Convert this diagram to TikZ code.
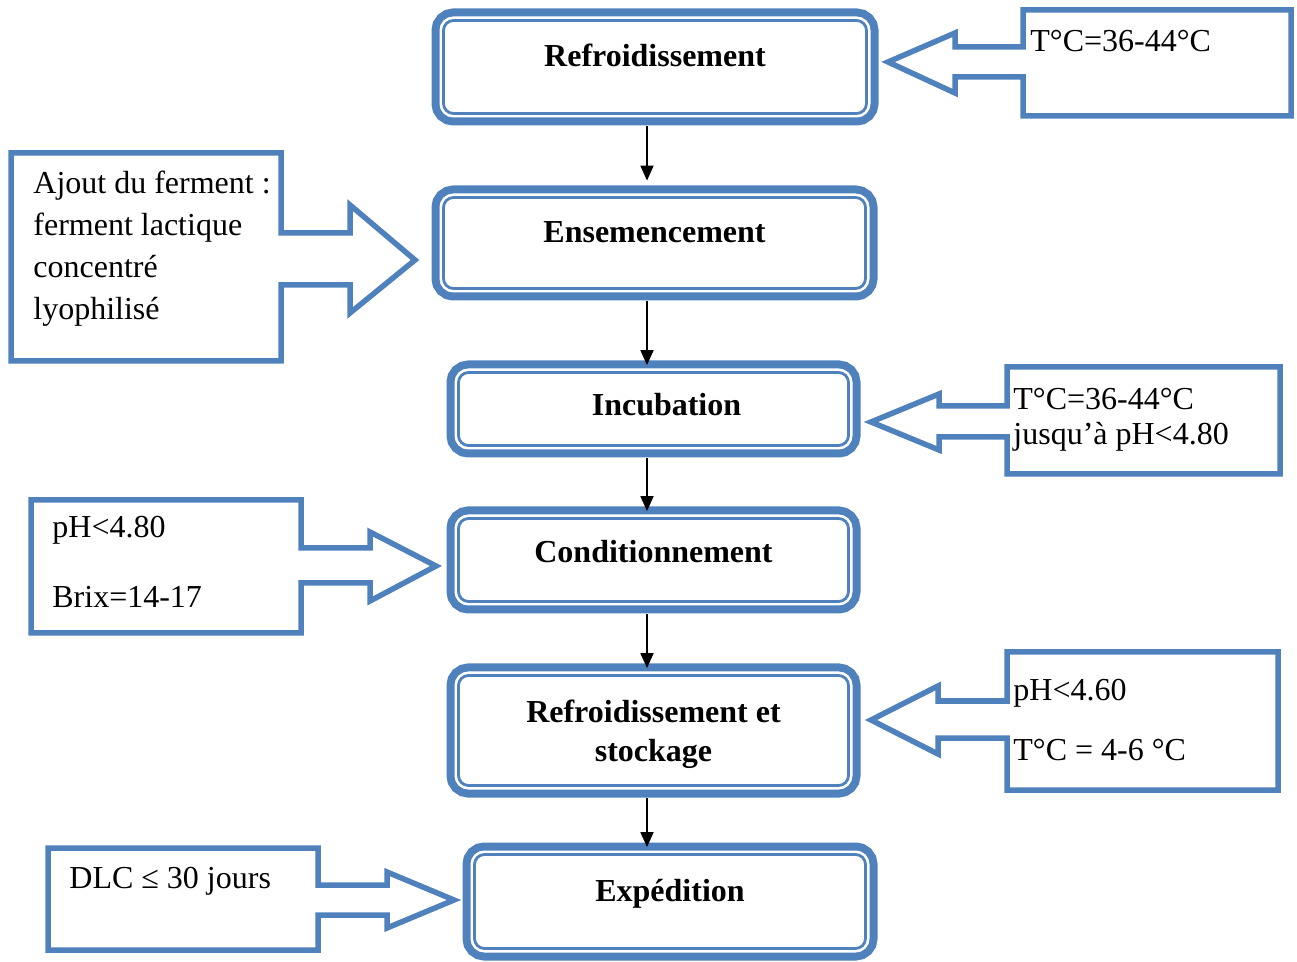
\documentclass[tikz,border=0pt]{standalone}
\usepackage{fontspec}
\setmainfont{Liberation Serif}
\usetikzlibrary{arrows.meta}
\definecolor{stepblue}{RGB}{79,129,189}

\tikzset{
  stage/.style={rounded corners=5pt, inner sep=0pt, align=center,
    font=\fontsize{16}{21}\selectfont\bfseries, text height=10pt, text depth=10pt,
    preaction={draw=stepblue, line width=12pt},
    preaction={fill=white},
    preaction={draw=white, line width=4pt},
    draw=stepblue, line width=1.4pt},
  callout/.style={draw=stepblue, line width=2.75pt, fill=white},
  note/.style={inner sep=0pt, align=left, anchor=base west, font=\fontsize{16}{21}\selectfont},
  flow/.style={-{Triangle[width=6.5pt,length=7.5pt]}, line width=0.9pt, shorten <=5.75pt, shorten >=3pt}
}

\begin{document}
\begin{tikzpicture}[x=0.5pt, y=-0.5pt]
				\useasboundingbox (0,0) rectangle (1297,962);
				
				% Draw callouts
				\draw[callout] (1023,10) -- (1291,10) -- (1291,116) -- (1023,116) -- (1023,77) -- (955,77) -- (955,93) -- (888,62) -- (955,33) -- (955,47) -- (1023,47) -- cycle;
				\draw[callout] (11,153) -- (281,153) -- (281,233) -- (350,233) -- (350,205) -- (415,260) -- (350,313) -- (350,285) -- (281,285) -- (281,361) -- (11,361) -- cycle;
				\draw[callout] (1007,367) -- (1280,367) -- (1280,474) -- (1007,474) -- (1007,437) -- (939,437) -- (939,450) -- (871,422) -- (939,394) -- (939,406) -- (1007,406) -- cycle;
				\draw[callout] (31,500) -- (301,500) -- (301,548) -- (370,548) -- (370,532) -- (436,566) -- (370,601) -- (370,583) -- (301,583) -- (301,633) -- (31,633) -- cycle;
				\draw[callout] (1007,652) -- (1278,652) -- (1278,790) -- (1007,790) -- (1007,738) -- (938,738) -- (938,754) -- (871,720) -- (938,686) -- (938,701) -- (1007,701) -- cycle;
				\draw[callout] (48,848) -- (318,848) -- (318,885) -- (387,885) -- (387,872) -- (454,900) -- (387,928) -- (387,915) -- (318,915) -- (318,950) -- (48,950) -- cycle;
				
				% Callout texts (anchored on the last line)
				\node[note] (coolnote) at (1030,52) {T°C=36-44°C};
				\node[note] (seednote) at (33,320) {Ajout du ferment :\\ferment lactique\\concentré\\lyophilisé};
				\node[note] (incubnote) at (1013,445) {T°C=36-44°C\\[-3.5pt]jusqu’à pH<4.80};
				\node[note] (packnote) at (52,608) {pH<4.80\\[14pt]Brix=14-17};
				\node[note] (storenote) at (1013,760) {pH<4.60\\[9pt]T°C = 4-6 °C};
				\node[note] (shipnote) at (69,888) {DLC ≤ 30 jours};
				
				% Process steps
				\node[stage, minimum width=211.5pt, minimum height=46.5pt] (cool) at (655,67) {Refroidissement};
				\node[stage, minimum width=211pt, minimum height=45.5pt] (seed) at (654.5,243) {Ensemencement};
				\node[stage, minimum width=195pt, minimum height=36.5pt, text height=13.5pt, text depth=6.5pt] (incub) at (653.5,409) {\hspace*{13pt}Incubation};
				\node[stage, minimum width=195pt, minimum height=41.5pt, text height=11.5pt, text depth=8.5pt] (pack) at (653.5,560) {Conditionnement};
				\node[stage, minimum width=195pt, minimum height=55pt, text height=36pt, text depth=4.5pt] (store) at (653.5,730.5) {Refroidissement et\\[-1pt]stockage};
				\node[stage, minimum width=195.5pt, minimum height=47pt] (ship) at (670,901.5) {Expédition};
				
				% Connections
				\coordinate (axis) at (647,0);
				\draw[flow, shorten >=7.75pt] (cool.south -| axis) -- (seed.north -| axis);
				\draw[flow] (seed.south -| axis) -- (incub.north -| axis);
				\draw[flow] (incub.south -| axis) -- (pack.north -| axis);
				\draw[flow] (pack.south -| axis) -- (store.north -| axis);
				\draw[flow] (store.south -| axis) -- (ship.north -| axis);
			\end{tikzpicture}
\end{document}
